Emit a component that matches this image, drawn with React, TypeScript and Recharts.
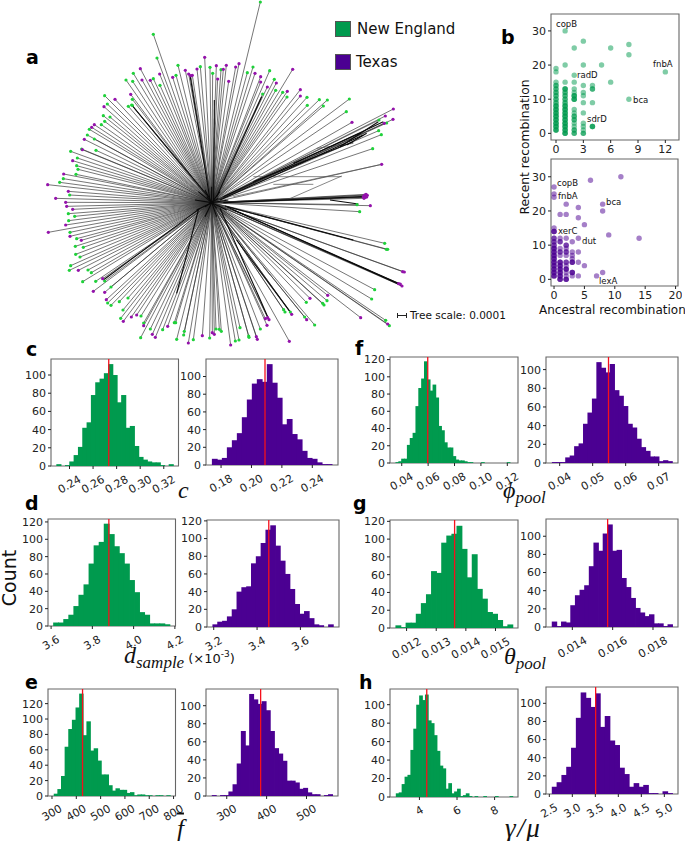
import React from 'react'
import {
  BarChart, Bar, XAxis, YAxis, ScatterChart, Scatter, ReferenceLine, ReferenceArea,
} from 'recharts'

const GREEN = '#009a4e'
const PURPLE = '#4b0092'
const TIP_GREEN = '#1fd13a'
const TIP_PURPLE = '#9412ab'
const FRAME = '#666666'
const INK = '#222222'
const SANS = '"DejaVu Sans", sans-serif'
const SERIF = '"Liberation Serif", serif'

const countsTo100 = [0, 20, 40, 60, 80, 100]
const countsTo120 = [0, 20, 40, 60, 80, 100, 120]

// c: coalescence
const cNE = [2, 0, 1, 5, 12, 21, 42, 48, 78, 92, 96, 102, 112, 100, 70, 78, 42, 44, 22, 10, 7, 5, 4, 4, 1, 0, 2]
const cTX = [7, 6, 8, 20, 28, 36, 54, 74, 92, 97, 94, 114, 93, 76, 46, 52, 35, 29, 16, 8, 7, 3, 1, 1]
// f: phi pool
const fNE = [1, 2, 5, 5, 21, 29, 35, 66, 87, 98, 118, 97, 84, 91, 76, 43, 38, 24, 18, 18, 8, 4, 3, 3, 2, 1, 1, 0, 0, 0, 1, 0, 0, 0, 0, 0, 0, 0, 0, 1]
const fTX = [1, 1, 1, 6, 8, 18, 21, 42, 54, 69, 108, 102, 97, 106, 78, 72, 61, 42, 38, 26, 17, 13, 7, 7, 2, 3, 2]
// d: sample diversity
const dNE = [4, 4, 8, 13, 23, 36, 48, 72, 93, 97, 118, 106, 92, 84, 72, 53, 39, 16, 13, 3, 3, 3, 2]
const dTX = [3, 6, 7, 12, 20, 40, 45, 46, 72, 80, 95, 110, 115, 92, 75, 60, 43, 26, 15, 18, 10, 3, 2, 0, 3]
// g: theta pool
const gNE = [3, 1, 6, 6, 16, 28, 38, 64, 62, 96, 104, 106, 115, 89, 57, 83, 44, 33, 18, 16, 9, 2, 4]
const gTX = [6, 1, 6, 5, 24, 35, 41, 46, 67, 93, 84, 103, 113, 84, 85, 54, 44, 32, 21, 16, 12, 14, 4, 4, 1, 3]
// e: fragment length
const eNE = [3, 9, 26, 64, 87, 99, 115, 133, 79, 97, 59, 62, 46, 28, 28, 14, 7, 10, 8, 8, 4, 5, 1, 2, 2, 1, 1, 0, 1, 1, 0, 1]
const eTX = [1, 0, 1, 1, 5, 13, 36, 72, 56, 113, 107, 102, 105, 95, 72, 53, 47, 39, 17, 17, 15, 8, 9, 4, 2, 2, 0, 1, 2]
// h: gamma / mu
const hNE = [4, 5, 14, 22, 24, 51, 74, 100, 110, 105, 111, 83, 80, 67, 50, 34, 31, 9, 15, 4, 6, 9, 1, 2, 4, 1, 0, 1, 0, 0, 1, 0, 0, 0, 1, 0, 0, 0, 0, 1]
const hTX = [8, 13, 21, 30, 51, 84, 112, 106, 96, 111, 74, 86, 59, 54, 29, 22, 8, 12, 8, 10, 1, 1, 0, 3, 1]

// b: recent recombination per gene, grouped by ancestral recombination
const neColumns: [number, number[]][] = [
  [0, [1, 1, 1, 2, 2, 2, 3, 3, 3, 4, 4, 4, 5, 5, 5, 6, 6, 6, 7, 7, 7, 8, 8, 8, 9, 9, 10, 10, 11, 11, 12, 12, 13, 13, 14, 14, 15, 18, 19]],
  [1, [0, 0, 0, 1, 1, 1, 2, 2, 2, 3, 3, 3, 4, 4, 4, 5, 5, 5, 6, 6, 6, 7, 7, 7, 8, 8, 8, 9, 9, 10, 10, 11, 11, 12, 12, 13, 13, 13, 15, 20, 30]],
  [2, [0, 0, 1, 1, 2, 3, 4, 4, 5, 5, 6, 7, 10, 10, 10, 11, 11, 11, 12, 13, 15, 17, 25]],
  [3, [0, 0, 1, 2, 3, 6, 9, 11, 12, 14, 20, 27]],
  [4, [2, 2, 2, 9, 13, 13, 14]],
  [5, [20]],
  [6, [15, 25]],
  [8, [10, 23, 26]],
  [12, [18]],
]
const txColumns: [number, number[]][] = [
  [0, [1, 1, 1, 2, 2, 2, 3, 3, 3, 4, 4, 4, 5, 5, 5, 6, 6, 6, 7, 7, 7, 8, 8, 8, 9, 9, 9, 10, 10, 11, 11, 12, 12, 14, 14, 14, 15, 24, 25, 27]],
  [1, [0, 0, 0, 1, 1, 1, 2, 2, 2, 3, 3, 3, 4, 4, 4, 5, 5, 5, 7, 8, 8, 9, 11, 11, 12, 19]],
  [2, [0, 0, 0, 1, 2, 3, 3, 3, 4, 5, 5, 7, 8, 8, 9, 10, 10, 12, 19, 22]],
  [3, [1, 2, 2, 2, 5, 5, 5, 6, 7, 8, 11]],
  [4, [1, 5, 8, 12, 18, 21]],
  [5, [4, 16]],
  [6, [29]],
  [7, [1]],
  [8, [2, 20, 22]],
  [9, [13]],
  [11, [30]],
  [14, [12]],
]

// a: tree tips, in tree units
const treeRoot: [number, number] = [575, 608]
const greenTips: [number, number][] = [
  [721, 6], [400, 103], [411, 174], [474, 196], [340, 220], [318, 240], [338, 244], [400, 236], [420, 256], [468, 226],
  [541, 200], [570, 202], [578, 220], [603, 209], [682, 218], [699, 201], [749, 212], [763, 238], [767, 271], [788, 277],
  [801, 291], [861, 292], [862, 316], [728, 282], [898, 299], [922, 300], [910, 318], [988, 297], [979, 335],
  [1077, 360], [1100, 369], [1076, 392], [1084, 404], [1058, 446], [1011, 614], [1019, 635],
  [1094, 730], [1099, 748], [1103, 748], [1064, 869], [1055, 897], [921, 902], [908, 910], [912, 915], [859, 907],
  [854, 951], [884, 975], [1097, 961], [1108, 977], [791, 929], [795, 936], [811, 936], [721, 987], [686, 1008], [687, 1012],
  [660, 983], [657, 1020], [646, 1023], [604, 994], [598, 988], [588, 987], [569, 1014], [520, 1019], [491, 1005], [493, 994],
  [470, 1018], [428, 989], [463, 968], [467, 968], [391, 987], [362, 1013], [371, 969], [363, 948], [302, 955], [309, 930],
  [324, 894], [298, 905], [273, 916], [263, 909], [273, 861], [254, 843], [227, 844], [188, 845], [214, 818], [204, 810],
  [148, 811], [152, 797], [180, 771], [167, 763], [190, 742], [166, 739], [170, 716], [150, 697], [146, 662], [164, 649],
  [145, 641], [149, 585], [119, 547], [130, 536], [168, 523], [174, 508], [170, 497], [172, 474], [152, 454], [185, 447],
  [228, 451], [223, 417], [202, 405], [208, 388], [244, 374], [254, 364], [250, 347], [270, 351], [262, 312], [254, 287],
  [325, 319], [335, 315], [337, 298], [337, 316],
]
const purpleTips: [number, number][] = [
  [554, 172], [361, 206], [366, 240], [391, 241], [419, 222], [458, 232], [496, 211], [506, 222], [512, 227], [517, 226],
  [531, 207], [589, 197], [610, 208], [619, 196], [593, 237], [626, 244], [647, 201], [657, 191], [705, 220], [722, 230],
  [722, 246], [742, 261], [769, 249], [802, 274], [818, 208], [841, 269], [841, 288], [996, 367], [1120, 327], [1096, 348],
  [1119, 358], [1093, 370], [1085, 493], [1030, 590], [1034, 585], [1038, 583], [1042, 586], [1036, 592], [1032, 595], [1040, 591],
  [1051, 617], [1148, 815], [1153, 816], [1136, 851], [1141, 852], [1146, 858], [923, 886], [870, 895], [860, 959], [1022, 953],
  [1103, 972], [815, 943], [736, 956], [743, 953], [747, 959], [741, 976], [808, 1024], [709, 1010], [712, 1018], [632, 1035],
  [577, 998], [583, 1003], [547, 1007], [505, 1029], [443, 979], [406, 1012], [397, 1003], [371, 977], [350, 945], [334, 951],
  [310, 964], [259, 899], [254, 877], [248, 836], [220, 874], [175, 811], [184, 721], [150, 709], [85, 697], [137, 675],
  [158, 628], [140, 619], [137, 607], [107, 595], [145, 574], [83, 554], [131, 522], [158, 482], [187, 449], [193, 418],
  [215, 382], [223, 374], [252, 320], [285, 298], [332, 283],
]
type Seg = [[number, number], [number, number]]
// heavier internal branches
const heavyBranches: Seg[] = [
  [[600, 600], [1030, 405]], [[610, 590], [1090, 365]], [[700, 545], [1000, 425]], [[820, 490], [1020, 400]],
  [[960, 440], [1075, 365]], [[980, 435], [1040, 400]], [[610, 608], [1030, 590]],
  [[930, 600], [1015, 612]], [[615, 618], [1000, 720]], [[640, 630], [1138, 851]], [[620, 620], [1146, 857]],
  [[570, 600], [510, 225]], [[565, 590], [335, 315]], [[590, 590], [725, 290]], [[581, 600], [583, 300]],
  [[540, 625], [250, 840]], [[600, 625], [745, 955]], [[650, 720], [810, 935]], [[535, 630], [470, 880]],
  // short spokes that fill the hub
  [[575, 608], [555, 570]], [[575, 608], [600, 575]], [[575, 608], [625, 600]], [[575, 608], [620, 630]],
  [[575, 608], [590, 650]], [[575, 608], [555, 650]], [[575, 608], [530, 630]], [[575, 608], [525, 600]],
  [[575, 608], [535, 575]], [[575, 608], [575, 560]], [[560, 590], [590, 625]], [[555, 620], [595, 595]],
]
// thin links between parallel branches
const crossLinks: Seg[] = [
  [[700, 530], [965, 530]], [[760, 553], [880, 553]], [[800, 600], [965, 528]], [[830, 490], [890, 470]],
  [[890, 445], [1000, 430]], [[730, 800], [750, 825]], [[640, 590], [1085, 493]],
]

type Point = { x: number; y: number }
const toPoints = (tips: [number, number][]): Point[] => tips.map(([x, y]) => ({ x, y }))
const fromColumns = (cols: [number, number[]][]): Point[] =>
  cols.flatMap(([x, ys]) => ys.map((y) => ({ x, y })))

const dot = (r: number, fill: string, opacity = 1) => (props: any) => (
  <circle cx={props.cx} cy={props.cy} r={r} fill={fill} fillOpacity={opacity} />
)

const Txt = ({ x, y, size, children, style }: any) => (
  <div style={{
    position: 'absolute', left: x, top: y, transform: 'translateY(-50%)', fontFamily: SANS,
    fontSize: size, color: '#111', whiteSpace: 'nowrap', lineHeight: 1, ...style,
  }}>{children}</div>
)

const SlantTick = ({ x, y, payload, digits }: any) => {
  const label = Number(payload.value).toFixed(digits)
  const drop = 2 + (label.length * 6.6 * 0.5 + 10) / 2
  return (
    <text
      x={x} y={y + drop} fill={INK} fontSize={11} fontFamily={SANS}
      textAnchor="middle" dominantBaseline="central"
      transform={`rotate(-30 ${x} ${y + drop})`}
    >{label}</text>
  )
}

type HistProps = {
  box: [number, number, number, number]
  counts: number[]
  edges: [number, number]
  xDomain: [number, number]
  xTicks: number[]
  yMax: number
  yTicks: number[]
  digits: number
  mean: number
  color: string
}

function Hist({ box, counts, edges, xDomain, xTicks, yMax, yTicks, digits, mean, color }: HistProps) {
  const [left, top, right, bottom] = box
  const axisW = 34
  const axisH = 34
  const pad = { top: 8, right: 14, bottom: 2, left: 0 }
  const plotW = right - left
  const span = xDomain[1] - xDomain[0]
  const padLeft = ((edges[0] - xDomain[0]) / span) * plotW
  const padRight = ((xDomain[1] - edges[1]) / span) * plotW
  const binW = (edges[1] - edges[0]) / counts.length
  const bandW = (plotW - padLeft - padRight) / counts.length
  const rows = counts.map((count, bin) => ({ bin, count, mid: edges[0] + (bin + 0.5) * binW }))
  // recharts floors the bar width, so the rect is redrawn a little wider than the bin
  const binRect = (p: any) => <rect x={p.x - 0.2} y={p.y} width={bandW + 0.8} height={p.height} fill={color} />
  return (
    <div style={{ position: 'absolute', left: left - axisW, top: top - pad.top }}>
      <BarChart
        width={plotW + axisW + pad.right} height={bottom - top + axisH + pad.top + pad.bottom}
        data={rows} barCategoryGap={0}
        margin={pad}
      >
        <XAxis xAxisId="bins" dataKey="bin" hide height={0} padding={{ left: padLeft, right: padRight }} />
        <XAxis
          xAxisId="value" dataKey="mid" type="number" scale="linear" domain={xDomain} allowDataOverflow
          ticks={xTicks} interval={0} height={axisH} axisLine={false}
          tickSize={3} tickLine={{ stroke: INK }}
          tick={<SlantTick digits={digits} />}
        />
        <YAxis
          type="number" domain={[0, yMax]} allowDataOverflow ticks={yTicks} interval={0} width={axisW}
          axisLine={false} tickSize={3} tickLine={{ stroke: INK }}
          tick={{ fontSize: 11, fontFamily: SANS, fill: INK }}
        />
        <Bar xAxisId="bins" dataKey="count" shape={binRect} isAnimationActive={false} />
        <ReferenceLine xAxisId="value" x={mean} stroke="#f5101c" strokeWidth={1.3} />
        <ReferenceArea
          xAxisId="value" x1={xDomain[0]} x2={xDomain[1]} y1={0} y2={yMax}
          fill="none" stroke={FRAME} strokeWidth={1.1} ifOverflow="visible"
        />
      </BarChart>
    </div>
  )
}

type GeneScatterProps = {
  box: [number, number, number, number]
  points: Point[]
  xDomain: [number, number]
  yDomain: [number, number]
  xTicks: number[]
  color: string
}

function GeneScatter({ box, points, xDomain, yDomain, xTicks, color }: GeneScatterProps) {
  const [left, top, right, bottom] = box
  const axisW = 24
  const axisH = 20
  return (
    <div style={{ position: 'absolute', left: left - axisW, top: top - 2 }}>
      <ScatterChart
        width={right - left + axisW + 4} height={bottom - top + axisH + 4}
        margin={{ top: 2, right: 4, bottom: 2, left: 0 }}
      >
        <XAxis
          dataKey="x" type="number" domain={xDomain} allowDataOverflow ticks={xTicks} interval={0}
          height={axisH} axisLine={false} tickSize={3} tickLine={{ stroke: INK }}
          tick={{ fontSize: 11, fontFamily: SANS, fill: INK }}
        />
        <YAxis
          dataKey="y" type="number" domain={yDomain} allowDataOverflow ticks={[0, 10, 20, 30]} interval={0}
          width={axisW} axisLine={false} tickSize={3} tickLine={{ stroke: INK }}
          tick={{ fontSize: 11, fontFamily: SANS, fill: INK }}
        />
        <Scatter data={points} shape={dot(2.7, color, 0.5)} isAnimationActive={false} />
        <ReferenceArea
          x1={xDomain[0]} x2={xDomain[1]} y1={yDomain[0]} y2={yDomain[1]}
          fill="none" stroke={FRAME} strokeWidth={1.1} ifOverflow="visible"
        />
      </ScatterChart>
    </div>
  )
}

function Tree() {
  const allTips = [...greenTips, ...purpleTips]
  return (
    <div style={{ position: 'absolute', left: 20, top: 0 }}>
      <ScatterChart width={480} height={350} margin={{ top: 0, right: 0, bottom: 0, left: 0 }}>
        <XAxis dataKey="x" type="number" domain={[0, 1440]} allowDataOverflow hide height={0} />
        <YAxis dataKey="y" type="number" domain={[0, 1050]} allowDataOverflow reversed hide width={0} />
        {allTips.map(([x, y], i) => (
          <ReferenceLine
            key={i} stroke="#333333" strokeOpacity={0.75} strokeWidth={0.9}
            segment={[{ x: treeRoot[0], y: treeRoot[1] }, { x, y }]}
          />
        ))}
        {crossLinks.map(([a, b], i) => (
          <ReferenceLine
            key={i} stroke="#555555" strokeWidth={0.7}
            segment={[{ x: a[0], y: a[1] }, { x: b[0], y: b[1] }]}
          />
        ))}
        {heavyBranches.map(([a, b], i) => (
          <ReferenceLine
            key={i} stroke="#0a0a0a" strokeWidth={1.1}
            segment={[{ x: a[0], y: a[1] }, { x: b[0], y: b[1] }]}
          />
        ))}
        <Scatter data={toPoints(greenTips)} shape={dot(1.6, TIP_GREEN)} isAnimationActive={false} />
        <Scatter data={toPoints(purpleTips)} shape={dot(1.6, TIP_PURPLE)} isAnimationActive={false} />
      </ScatterChart>
    </div>
  )
}

const Swatch = ({ x, y, color }: any) => (
  <div style={{ position: 'absolute', left: x, top: y, width: 14, height: 14, background: color, border: '1px solid #555' }} />
)

const panelLetters: [string, number, number][] = [
  ['a', 26, 57], ['b', 501, 37], ['c', 26, 349], ['d', 25, 503], ['e', 25, 682],
  ['f', 355, 348], ['g', 353, 503], ['h', 359, 682],
]
const geneLabels: [string, number, number][] = [
  ['copB', 556, 24], ['radD', 577, 75], ['fnbA', 653, 64], ['bca', 633, 99.5], ['sdrD', 587, 119],
  ['copB', 557, 183], ['fnbA', 558, 196], ['bca', 606, 202], ['xerC', 558, 231], ['dut', 582, 241], ['lexA', 599, 281],
]

export default function App() {
  return (
    <div style={{ position: 'absolute', left: 0, top: 0, width: 685, height: 841, overflow: 'hidden', background: '#fff' }}>
      <Tree />
      <Swatch x={335} y={21} color={GREEN} />
      <Swatch x={335} y={54} color={PURPLE} />
      <Txt x={357} y={29} size={15}>New England</Txt>
      <Txt x={356} y={62} size={15}>Texas</Txt>
      <div style={{ position: 'absolute', left: 397, top: 315, width: 9, height: 1, background: '#222' }} />
      <div style={{ position: 'absolute', left: 397, top: 313, width: 1, height: 5, background: '#222' }} />
      <div style={{ position: 'absolute', left: 406, top: 313, width: 1, height: 5, background: '#222' }} />
      <Txt x={410} y={315} size={10.5}>Tree scale: 0.0001</Txt>

      <GeneScatter box={[551, 14, 679, 140]} points={fromColumns(neColumns)} xDomain={[-0.55, 13.5]} yDomain={[-1.94, 34.95]} xTicks={[0, 3, 6, 9, 12]} color={GREEN} />
      <GeneScatter box={[551, 159, 678, 286]} points={fromColumns(txColumns)} xDomain={[-0.5, 20.4]} yDomain={[-1.95, 35.2]} xTicks={[0, 5, 10, 15, 20]} color={PURPLE} />
      {geneLabels.map(([name, x, y], i) => <Txt key={i} x={x} y={y} size={8.5}>{name}</Txt>)}
      <Txt x={525} y={147} size={12.3} style={{ transform: 'translate(-50%, -50%) rotate(-90deg)' }}>Recent recombination</Txt>
      <Txt x={539} y={310} size={12}>Ancestral recombination</Txt>

      <Hist box={[50.5, 359, 178, 466]} counts={cNE} edges={[0.229, 0.328]} xDomain={[0.2243, 0.3325]} xTicks={[0.24, 0.26, 0.28, 0.3, 0.32]} yMax={117.6} yTicks={countsTo100} digits={2} mean={0.2733} color={GREEN} />
      <Hist box={[206, 359, 338, 465]} counts={cTX} edges={[0.1741, 0.2529]} xDomain={[0.1701, 0.2569]} xTicks={[0.18, 0.2, 0.22, 0.24]} yMax={119.8} yTicks={countsTo100} digits={2} mean={0.2089} color={PURPLE} />
      <Hist box={[390, 357, 518, 463]} counts={fNE} edges={[0.0354, 0.1219]} xDomain={[0.0311, 0.1281]} xTicks={[0.04, 0.06, 0.08, 0.1, 0.12]} yMax={123} yTicks={countsTo120} digits={2} mean={0.0597} color={GREEN} />
      <Hist box={[546, 357, 678, 463]} counts={fTX} edges={[0.0377, 0.0741]} xDomain={[0.03586, 0.07586]} xTicks={[0.04, 0.05, 0.06, 0.07]} yMax={113.5} yTicks={countsTo100} digits={2} mean={0.0548} color={PURPLE} />

      <Hist box={[47.5, 519, 175, 626]} counts={dNE} edges={[3.611, 4.175]} xDomain={[3.585, 4.203]} xTicks={[3.6, 3.8, 4.0, 4.2]} yMax={123.4} yTicks={countsTo120} digits={1} mean={3.88} color={GREEN} />
      <Hist box={[206.5, 520, 338.5, 627]} counts={dTX} edges={[3.195, 3.751]} xDomain={[3.169, 3.778]} xTicks={[3.2, 3.4, 3.6]} yMax={121} yTicks={countsTo120} digits={1} mean={3.454} color={PURPLE} />
      <Hist box={[390, 520, 518, 628]} counts={gNE} edges={[0.01163, 0.01558]} xDomain={[0.01144, 0.01576]} xTicks={[0.012, 0.013, 0.014, 0.015]} yMax={121.5} yTicks={countsTo120} digits={3} mean={0.01362} color={GREEN} />
      <Hist box={[546, 519, 678, 627]} counts={gTX} edges={[0.01299, 0.01896]} xDomain={[0.012694, 0.01924]} xTicks={[0.014, 0.016, 0.018]} yMax={119} yTicks={countsTo100} digits={3} mean={0.01575} color={PURPLE} />

      <Hist box={[47.5, 689, 175, 796]} counts={eNE} edges={[308, 786]} xDomain={[283.6, 808]} xTicks={[300, 400, 500, 600, 700, 800]} yMax={139} yTicks={countsTo120} digits={0} mean={425.7} color={GREEN} />
      <Hist box={[206, 689, 338, 796]} counts={eTX} edges={[263, 565]} xDomain={[248, 579]} xTicks={[300, 400, 500]} yMax={118.5} yTicks={countsTo100} digits={0} mean={385} color={PURPLE} />
      <Hist box={[390, 689, 518, 797]} counts={hNE} edges={[2.754, 8.96]} xDomain={[2.434, 9.245]} xTicks={[4, 6, 8]} yMax={117} yTicks={countsTo100} digits={0} mean={4.39} color={GREEN} />
      <Hist box={[546, 687, 678, 794]} counts={hTX} edges={[2.558, 5.174]} xDomain={[2.428, 5.297]} xTicks={[2.5, 3, 3.5, 4, 4.5, 5]} yMax={118} yTicks={countsTo100} digits={1} mean={3.507} color={PURPLE} />

      {panelLetters.map(([letter, x, y]) => (
        <Txt key={letter} x={x} y={y} size={19} style={{ fontWeight: 700, color: '#000' }}>{letter}</Txt>
      ))}
      <Txt x={0} y={578} size={19} style={{ writingMode: 'vertical-rl', transform: 'translateY(-50%) rotate(180deg)' }}>Count</Txt>
      <Txt x={178} y={490} size={24} style={{ fontFamily: SERIF, fontStyle: 'italic' }}>c</Txt>
      <Txt x={503} y={492} size={24} style={{ fontFamily: SERIF, fontStyle: 'italic' }}>
        ϕ<sub style={{ fontSize: 17, verticalAlign: '-5px' }}>pool</sub>
      </Txt>
      <Txt x={124} y={657} size={24} style={{ fontFamily: SERIF, fontStyle: 'italic' }}>
        d<sub style={{ fontSize: 17, verticalAlign: '-5px' }}>sample</sub>
        <span style={{ fontFamily: SANS, fontStyle: 'normal', fontSize: 13, marginLeft: 4 }}>(×10<sup style={{ fontSize: 9, verticalAlign: '6px' }}>-3</sup>)</span>
      </Txt>
      <Txt x={504} y={658} size={24} style={{ fontFamily: SERIF, fontStyle: 'italic' }}>
        θ<sub style={{ fontSize: 17, verticalAlign: '-5px' }}>pool</sub>
      </Txt>
      <Txt x={177} y={828} size={25} style={{ fontFamily: SERIF, fontStyle: 'italic', textDecoration: 'overline' }}>f</Txt>
      <Txt x={505} y={828} size={27} style={{ fontFamily: SERIF, fontStyle: 'italic', letterSpacing: 1.5 }}>γ/μ</Txt>
    </div>
  )
}
